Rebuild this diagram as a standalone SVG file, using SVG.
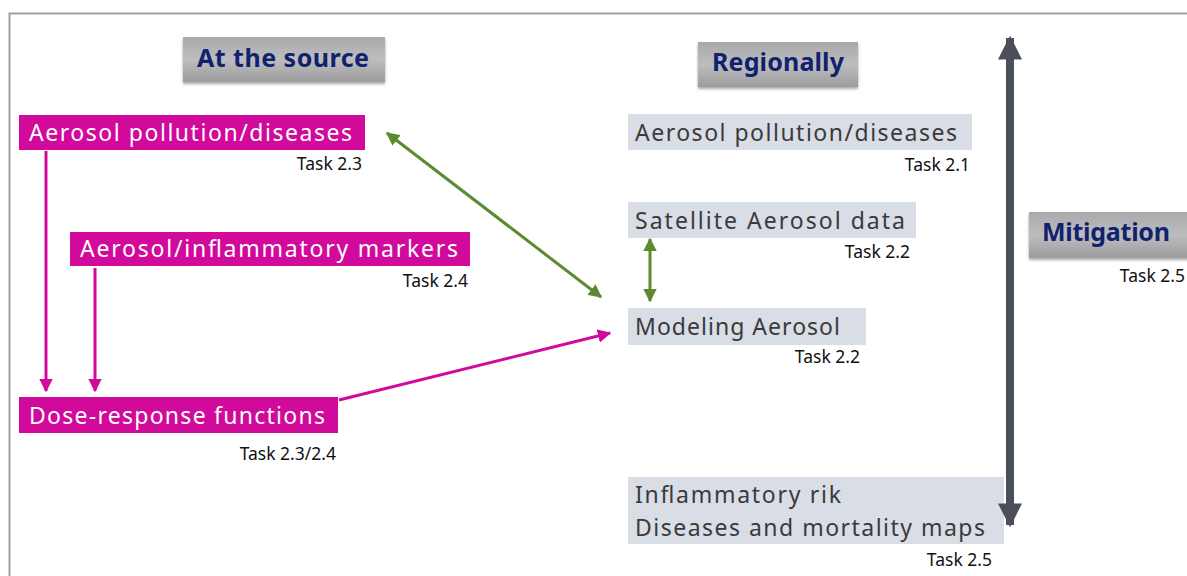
<svg xmlns="http://www.w3.org/2000/svg" width="1187" height="576" viewBox="0 0 1187 576">
<defs>
<linearGradient id="hdr" x1="0" y1="0" x2="0" y2="1">
<stop offset="0" stop-color="#a9a9ab"/>
<stop offset="0.5" stop-color="#bdbdbf"/>
<stop offset="1" stop-color="#9c9c9e"/>
</linearGradient>
<filter id="sh" x="-10%" y="-10%" width="120%" height="140%">
<feDropShadow dx="0" dy="2" stdDeviation="1.5" flood-color="#000" flood-opacity="0.35"/>
</filter>
<marker id="mg" viewBox="0 0 10 10" refX="9" refY="5" markerWidth="4.5" markerHeight="4.5" orient="auto-start-reverse" markerUnits="strokeWidth">
<path d="M0,0 L10,5 L0,10 z" fill="#d10a9c"/>
</marker>
<marker id="gr" viewBox="0 0 10 10" refX="9" refY="5" markerWidth="4.5" markerHeight="4.5" orient="auto-start-reverse" markerUnits="strokeWidth">
<path d="M0,0 L10,5 L0,10 z" fill="#5d8a30"/>
</marker>
<marker id="dk" viewBox="0 0 10 10" refX="9" refY="5" markerWidth="3" markerHeight="3" orient="auto-start-reverse" markerUnits="strokeWidth">
<path d="M0,0 L10,5 L0,10 z" fill="#4b4f59"/>
</marker>
</defs>
<style>
.hdr{fill:url(#hdr);filter:url(#sh)}
.hdrt{font-family:"Noto Sans","Liberation Sans",sans-serif;font-weight:bold;font-size:25px;fill:#10226e;text-anchor:middle}
.mb{fill:#d10a9c}
.mt{font-family:"Noto Sans","Liberation Sans",sans-serif;font-size:23px;fill:#ffffff}
.gb{fill:#d9dde6}
.gt{font-family:"Noto Sans","Liberation Sans",sans-serif;font-size:23px;fill:#3a3a3a}
.task{font-family:"Noto Sans","Liberation Sans",sans-serif;font-size:17.5px;fill:#111;text-anchor:end}
.cm{stroke:#d10a9c;stroke-width:3;fill:none}
.cg{stroke:#5d8a30;stroke-width:3;fill:none}
.cd{stroke:#4b4f59;stroke-width:8;fill:none}
</style>
<rect x="0" y="0" width="1187" height="576" fill="#ffffff"/>
<path d="M9.5,576 L9.5,13.5 L1187,13.5" fill="none" stroke="#a0a0a0" stroke-width="2"/>

<g id="hdr-source">
<rect class="hdr" x="183" y="37" width="202" height="45"/>
<text class="hdrt" x="283" y="67" textLength="172">At the source</text>
</g>
<g id="hdr-regional">
<rect class="hdr" x="698" y="42" width="160" height="45"/>
<text class="hdrt" x="778" y="71" textLength="132">Regionally</text>
</g>
<g id="hdr-mitigation">
<rect class="hdr" x="1029" y="212" width="160" height="46"/>
<text class="hdrt" x="1106" y="241" textLength="128">Mitigation</text>
<text class="task" x="1185" y="282">Task 2.5</text>
</g>

<g id="src-pollution">
<rect class="mb" x="19" y="115" width="346" height="35"/>
<text class="mt" x="29" y="141" textLength="323">Aerosol pollution/diseases</text>
<text class="task" x="362" y="170">Task 2.3</text>
</g>
<g id="src-markers">
<rect class="mb" x="70" y="232" width="400" height="34"/>
<text class="mt" x="80" y="257" textLength="378">Aerosol/inflammatory markers</text>
<text class="task" x="468" y="287">Task 2.4</text>
</g>
<g id="src-dose">
<rect class="mb" x="19" y="397" width="319" height="36"/>
<text class="mt" x="29" y="424" textLength="296">Dose-response functions</text>
<text class="task" x="336" y="460">Task 2.3/2.4</text>
</g>

<g id="reg-pollution">
<rect class="gb" x="628" y="114" width="344" height="36"/>
<text class="gt" x="635" y="141" textLength="322">Aerosol pollution/diseases</text>
<text class="task" x="970" y="171">Task 2.1</text>
</g>
<g id="reg-satellite">
<rect class="gb" x="628" y="202" width="288" height="36"/>
<text class="gt" x="635" y="229" textLength="270">Satellite Aerosol data</text>
<text class="task" x="910" y="258">Task 2.2</text>
</g>
<g id="reg-modeling">
<rect class="gb" x="628" y="308" width="238" height="37"/>
<text class="gt" x="635" y="335" textLength="205">Modeling Aerosol</text>
<text class="task" x="860" y="363">Task 2.2</text>
</g>
<g id="reg-maps">
<rect class="gb" x="628" y="477" width="376" height="67"/>
<text class="gt" x="635" y="503" textLength="206">Inflammatory rik</text>
<text class="gt" x="635" y="536" textLength="350">Diseases and mortality maps</text>
<text class="task" x="992" y="566">Task 2.5</text>
</g>

<g id="connectors">
<line class="cm" x1="46" y1="151" x2="46" y2="391" marker-end="url(#mg)"/>
<line class="cm" x1="95" y1="268" x2="95" y2="391" marker-end="url(#mg)"/>
<line class="cm" x1="339" y1="400" x2="610" y2="333" marker-end="url(#mg)"/>
<line class="cg" x1="387" y1="133" x2="601" y2="297" marker-start="url(#gr)" marker-end="url(#gr)"/>
<line class="cg" x1="650" y1="239" x2="650" y2="301" marker-start="url(#gr)" marker-end="url(#gr)"/>
<line class="cd" x1="1010" y1="38" x2="1010" y2="525" marker-start="url(#dk)" marker-end="url(#dk)"/>
</g>
</svg>
